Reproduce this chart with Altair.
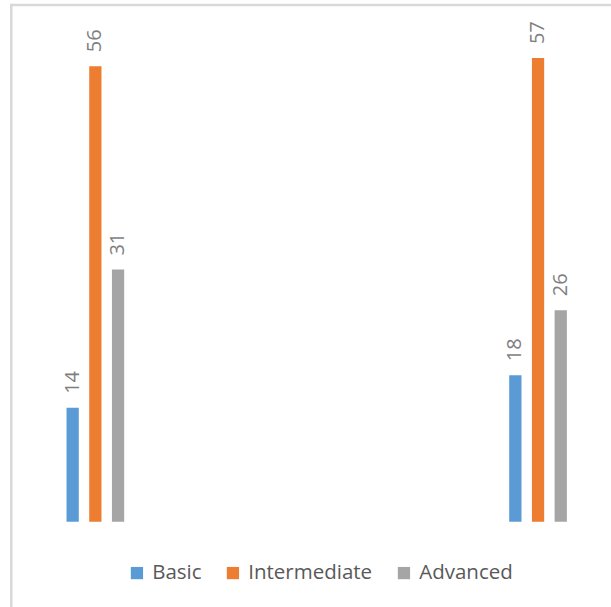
import altair as alt
import pandas as pd

groups = ["Group 1", "Group 2"]
levels = ["Basic", "Intermediate", "Advanced"]
basic = [14, 18]
intermediate = [56, 57]
advanced = [31, 26]
colors = ["#5B9BD5", "#ED7D31", "#A5A5A5"]

rows = []
for i, g in enumerate(groups):
    for lvl, vals in zip(levels, [basic, intermediate, advanced]):
        rows.append({"group": g, "level": lvl, "value": vals[i]})
df = pd.DataFrame(rows)

FONT = "Open Sans"

x = alt.X("group:N", axis=None, sort=groups,
          scale=alt.Scale(paddingInner=0.8462, paddingOuter=0.0556))
xo = alt.XOffset("level:N", sort=levels,
                 scale=alt.Scale(paddingInner=0.46, paddingOuter=0.23))
y = alt.Y("value:Q", axis=None, scale=alt.Scale(domain=[0, 60], nice=False, zero=True))
color = alt.Color(
    "level:N", sort=levels,
    scale=alt.Scale(domain=levels, range=colors),
    legend=alt.Legend(
        title=None, orient="none", legendX=90, legendY=529,
        direction="horizontal", symbolType="square", symbolSize=150,
        symbolStrokeWidth=0, labelFont=FONT, labelFontSize=20.5,
        labelColor="#595959", labelOffset=5, columnPadding=21, padding=0,
    ),
)

base = alt.Chart(df)
bars = base.mark_bar().encode(x=x, xOffset=xo, y=y, color=color)
labels = base.mark_text(
    angle=270, align="left", baseline="middle", dx=14,
    fontSize=20, font=FONT, color="#7F7F7F",
).encode(x=x, xOffset=xo, y=y, text="value:Q")

frame_df = pd.DataFrame({"k": [0]})
left_border = alt.Chart(frame_df).mark_rule(color="#D9D9D9", strokeWidth=2.5).encode(
    x=alt.value(-25.4), y=alt.value(-30), y2=alt.value(574))
top_border = alt.Chart(frame_df).mark_rule(color="#D9D9D9", strokeWidth=2.5).encode(
    y=alt.value(-28.7), x=alt.value(-26.6), x2=alt.value(575))

chart = alt.layer(bars, labels, left_border, top_border).properties(
    width=560, height=488,
    autosize=alt.AutoSizeParams(type="none"),
    padding={"left": 36.7, "top": 33.7, "right": 14.3, "bottom": 85.3},
    background="white",
).configure_view(stroke=None)

chart.save("out.html", embed_options={"renderer": "svg", "actions": False})
